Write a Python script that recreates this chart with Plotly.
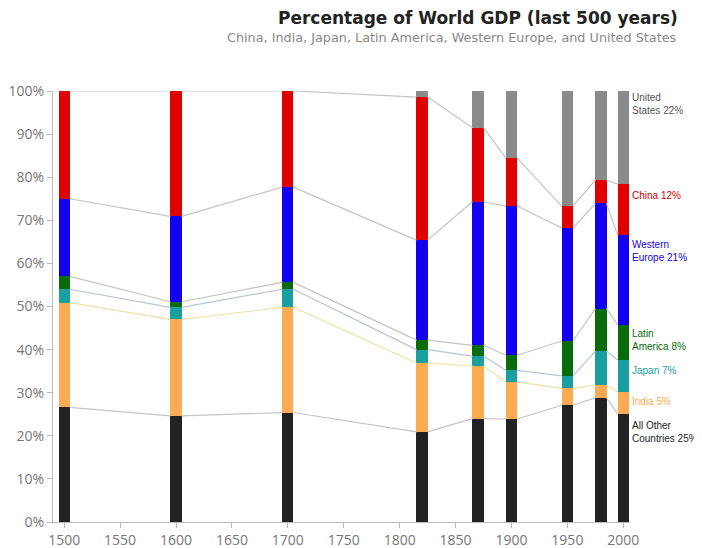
import plotly.graph_objects as go

years = [1500, 1600, 1700, 1820, 1870, 1900, 1950, 1980, 2000]
other = [26.6, 24.6, 25.4, 20.9, 24.0, 23.9, 27.1, 28.8, 25.0]
india = [24.3, 22.4, 24.4, 16.0, 12.2, 8.6, 3.9, 3.0, 5.2]
japan = [3.1, 2.8, 4.2, 3.1, 2.3, 2.7, 2.9, 7.8, 7.4]
latam = [3.0, 1.3, 1.6, 2.2, 2.5, 3.5, 8.1, 9.9, 8.2]
weur = [18.0, 19.8, 22.1, 23.2, 33.3, 34.6, 26.2, 24.4, 20.7]
china = [25.0, 29.1, 22.3, 33.2, 17.2, 11.2, 5.1, 5.4, 11.9]
usa = [0.0, 0.0, 0.0, 1.4, 8.5, 15.5, 26.7, 20.7, 21.6]

series_names = ["All Other Countries", "India", "Japan", "Latin America",
                "Western Europe", "China", "United States"]
series_vals = [other, india, japan, latam, weur, china, usa]
colors = ["#222222", "#fdab52", "#1b9ea0", "#0a6b0a", "#1400f0", "#e00000", "#8a8a8a"]
label_colors = ["#222222", "#fdab52", "#1b9ea0", "#0a6b0a", "#1400f0", "#d00000", "#555555"]
line_colors = ["#c4c4c4", "#f2e0a8", "#b9c6cf", "#c4c4c4", "#c4c4c4", "#c4c4c4"]

label_texts = ["All Other<br>Countries 25%", "India 5%", "Japan 7%", "Latin<br>America 8%",
               "Western<br>Europe 21%", "China 12%", "United<br>States 22%"]
label_y = [20.9, 27.9, 35.1, 42.2, 62.8, 75.8, 96.9]

y_ticks = list(range(0, 101, 10))
y_tick_text = [f"{v}%" for v in y_ticks]
x_ticks = list(range(1500, 2001, 50))

bar_w = 10

fig = go.Figure()

cum = [0.0] * len(years)
tops = []
for vals in series_vals:
    cum = [c + v for c, v in zip(cum, vals)]
    tops.append(list(cum))

for k in range(6):
    xs, ys = [], []
    for i in range(len(years) - 1):
        xs += [years[i] + bar_w / 2, years[i + 1] - bar_w / 2, None]
        ys += [tops[k][i], tops[k][i + 1], None]
    fig.add_trace(go.Scatter(x=xs, y=ys, mode="lines",
                             line=dict(color=line_colors[k], width=1.2),
                             hoverinfo="skip", showlegend=False))

for name, vals, col in zip(series_names, series_vals, colors):
    fig.add_trace(go.Bar(x=years, y=vals, name=name, width=bar_w,
                         marker=dict(color=col, line=dict(width=0)),
                         showlegend=False))

annotations = []
for txt, yv, col in zip(label_texts, label_y, label_colors):
    annotations.append(dict(x=2005, y=yv, xref="x", yref="y", text=txt,
                            showarrow=False, xanchor="left", yanchor="middle",
                            align="left", xshift=1,
                            font=dict(family="Liberation Sans Narrow, Liberation Sans, Arial, sans-serif",
                                      size=10, color=col)))

# page body has an 8px default margin; compensate
off = 8
W, H = 702 - off, 548 - off
ml, mr, mt, mb = 53 - off, 72, 91 - off, 26
pw = W - ml - mr
ph = H - mt - mb

def px(xw):
    return (xw - off - ml) / pw

def py(yw):
    return (H - (yw - off) - mb) / ph

annotations.append(dict(x=px(680), y=py(18), xref="paper", yref="paper",
                        text="<b>Percentage of World GDP (last 500 years)</b>",
                        showarrow=False, xanchor="right", yanchor="middle",
                        font=dict(family="DejaVu Sans", size=17, color="#222222")))
annotations.append(dict(x=px(679), y=py(37), xref="paper", yref="paper",
                        text="China, India, Japan, Latin America, Western Europe, and United States",
                        showarrow=False, xanchor="right", yanchor="middle",
                        font=dict(family="DejaVu Sans", size=12.8, color="#888888")))

fig.update_layout(
    width=W, height=H,
    margin=dict(l=ml, r=mr, t=mt, b=mb, autoexpand=False),
    barmode="stack", bargap=0,
    plot_bgcolor="white", paper_bgcolor="white",
    annotations=annotations,
    font=dict(family="Open Sans, sans-serif", color="#777777"),
)
fig.update_xaxes(range=[1490, 2006], tickvals=x_ticks, automargin=False,
                 showgrid=False, zeroline=False, showline=True, linecolor="#bbbbbb",
                 ticks="outside", ticklen=5, tickcolor="#bbbbbb",
                 tickfont=dict(size=14, color="#777777"))
fig.update_yaxes(range=[0, 100], tickvals=y_ticks, ticktext=y_tick_text, automargin=False,
                 showgrid=False, zeroline=False, showline=True,
                 linecolor="#bbbbbb", ticks="outside", ticklen=5, tickcolor="#bbbbbb",
                 tickfont=dict(size=14, color="#777777"))

fig.write_html("out.html")
